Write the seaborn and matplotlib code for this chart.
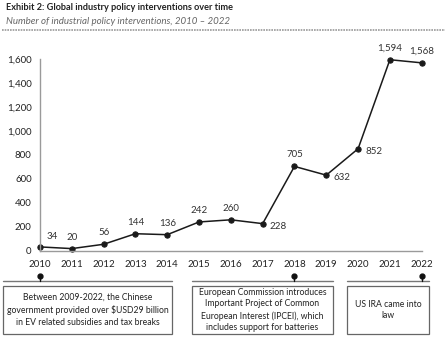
import matplotlib
matplotlib.use("Agg")
import matplotlib.pyplot as plt
import seaborn as sns
import pandas as pd
from matplotlib.patches import Rectangle
from matplotlib.lines import Line2D

years = [2010, 2011, 2012, 2013, 2014, 2015, 2016, 2017, 2018, 2019, 2020, 2021, 2022]
values = [34, 20, 56, 144, 136, 242, 260, 228, 705, 632, 852, 1594, 1568]
label_side = ["ur", "u", "u", "u", "u", "u", "u", "r", "u", "r", "r", "u", "u"]
yticks = [0, 200, 400, 600, 800, 1000, 1200, 1400, 1600]

title = "Exhibit 2: Global industry policy interventions over time"
subtitle = "Number of industrial policy interventions, 2010 \u2013 2022"
notes = [
    "Between 2009-2022, the Chinese\ngovernment provided over $USD29 billion\nin EV related subsidies and tax breaks",
    "European Commission introduces\nImportant Project of Common\nEuropean Interest (IPCEI), which\nincludes support for batteries",
    "US IRA came into\nlaw",
]
note_years = [2010, 2018, 2022]

sns.set_theme(style="white")
plt.rcParams['font.family'] = ['Lato', 'DejaVu Sans']

W, H = 447, 338
fig = plt.figure(figsize=(W / 100, H / 100), dpi=100)

def fx(px):
    return px / W

def fy(py):
    return 1 - py / H

ax = fig.add_axes([fx(40), fy(251), fx(421.7) - fx(40), fy(59) - fy(251)])
df = pd.DataFrame({"year": years, "value": values})
sns.lineplot(data=df, x="year", y="value", ax=ax, color="#1a1a1a", lw=1.1,
             marker="o", markersize=3.8, markeredgecolor="#1a1a1a", clip_on=False)
ax.set_xlim(2010, 2022)
ax.set_ylim(0, 1600)
ax.set_xticks(years)
ax.set_yticks(yticks)
ax.set_xticklabels([str(y) for y in years], fontsize=7, color="#222222")
ax.set_yticklabels([f"{v:,}" for v in yticks], fontsize=7, color="#222222")
ax.set_xlabel("")
ax.set_ylabel("")
for s in ["top", "right"]:
    ax.spines[s].set_visible(False)
for s in ["left", "bottom"]:
    ax.spines[s].set_color("#9a9a9a")
    ax.spines[s].set_linewidth(1.0)
ax.tick_params(axis="both", length=3, width=0.8, color="#9a9a9a", pad=3, direction="out")
ax.tick_params(axis="x", pad=3.5)
ax.patch.set_alpha(0)

for x, v, side in zip(years, values, label_side):
    if side == "u":
        ax.annotate(f"{v:,}", (x, v), xytext=(0, 5), textcoords="offset points",
                    ha="center", va="bottom", fontsize=7, color="#333333")
    elif side == "ur":
        ax.annotate(f"{v:,}", (x, v), xytext=(5, 4), textcoords="offset points",
                    ha="left", va="bottom", fontsize=7, color="#333333")
    else:
        ax.annotate(f"{v:,}", (x, v), xytext=(5, -2), textcoords="offset points",
                    ha="left", va="center", fontsize=7, color="#333333")

# title
fig.text(fx(6), fy(8), title, fontsize=6.6, fontweight="bold", color="#222222", va="center", ha="left")
fig.text(fx(6), fy(21), subtitle, fontsize=7, style="italic", color="#666666", va="center", ha="left")
fig.add_artist(Line2D([fx(2), fx(445)], [fy(29.5), fy(29.5)], color="#999999", lw=1.2, ls=(0, (1, 0.6))))

# notes
box_x = [(3, 172), (192, 333), (347, 429)]
for (x0, x1), txt, ny in zip(box_x, notes, note_years):
    xd = ax.transData.transform((ny, 0))[0] / W
    fig.add_artist(Line2D([fx(x0), fx(x1)], [fy(281), fy(281)], color="#777777", lw=1.0))
    fig.add_artist(Line2D([xd, xd], [fy(276), fy(281)], color="#111111", lw=1.0))
    fig.add_artist(Line2D([xd], [fy(276)], color="#111111", marker="o", markersize=3.5, lw=0))
    fig.add_artist(Rectangle((fx(x0), fy(334)), fx(x1) - fx(x0), fy(286) - fy(334),
                             fill=False, edgecolor="#666666", lw=0.9))
    fig.text((fx(x0) + fx(x1)) / 2, (fy(286) + fy(334)) / 2, txt, fontsize=6.2,
             color="#222222", ha="center", va="center", linespacing=1.38)

fig.savefig("out.png", dpi=100)
